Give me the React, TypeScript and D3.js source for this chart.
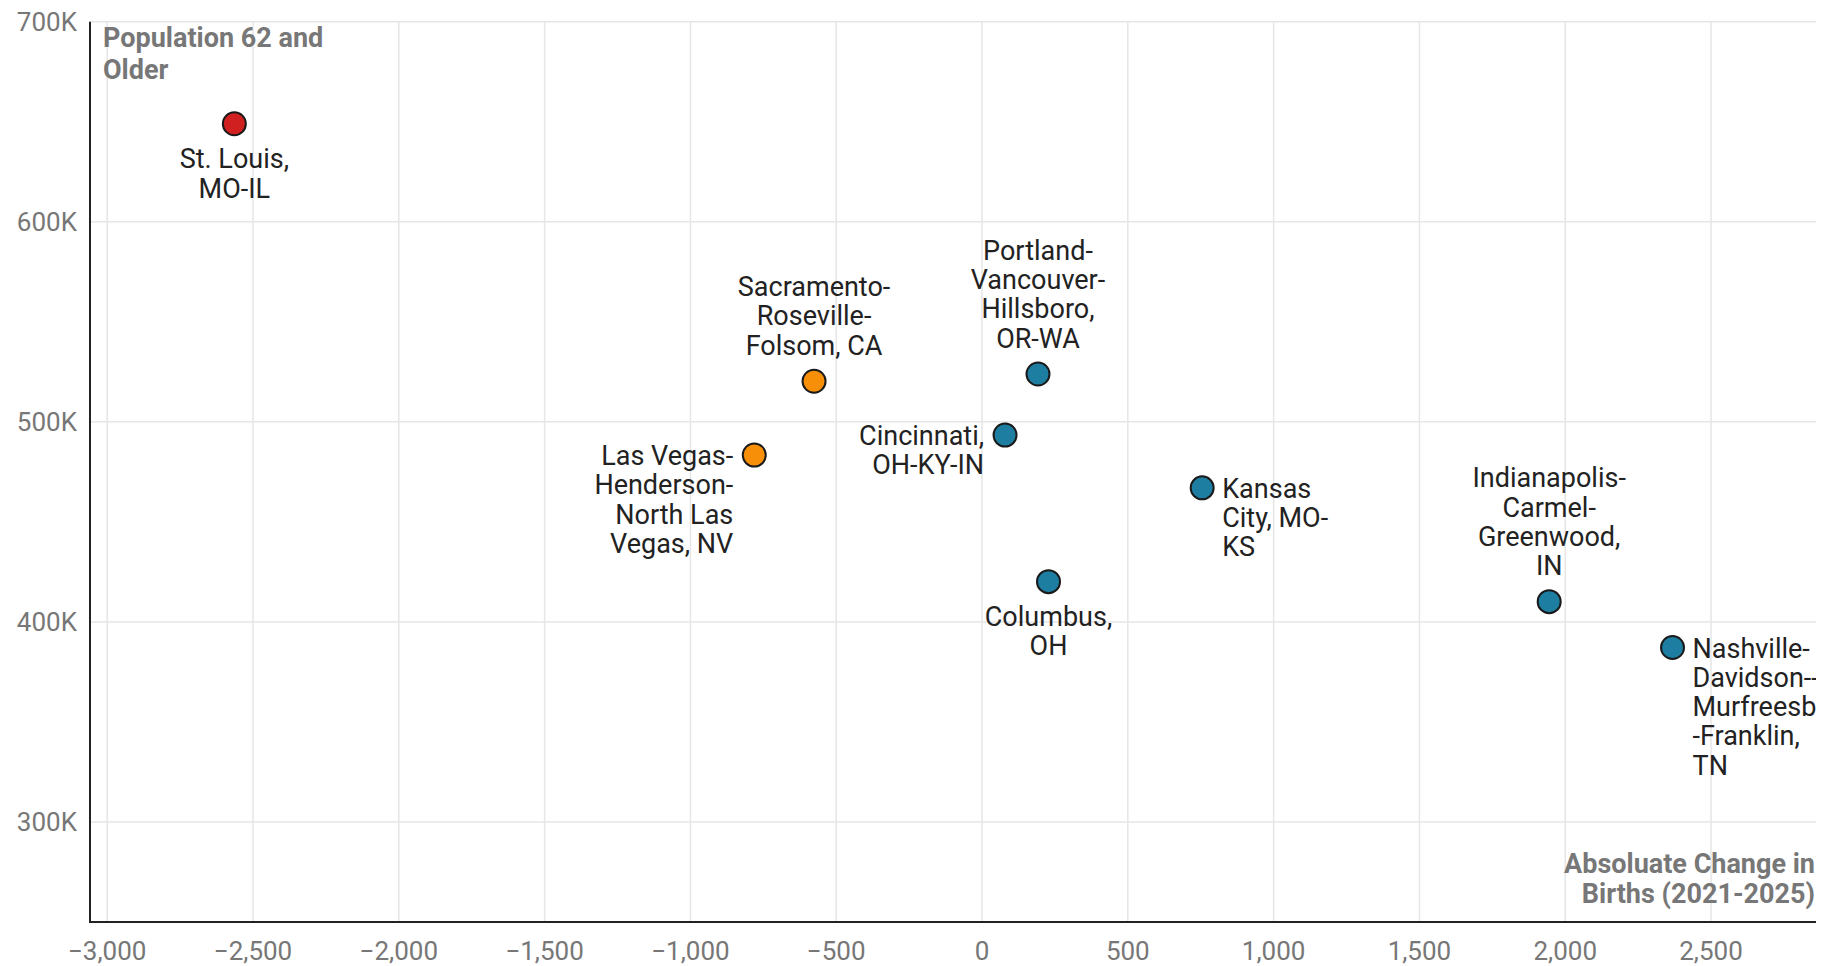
import React from "react";
import * as d3 from "d3";

const cities = [
  "St. Louis, MO-IL",
  "Sacramento-Roseville-Folsom, CA",
  "Las Vegas-Henderson-North Las Vegas, NV",
  "Portland-Vancouver-Hillsboro, OR-WA",
  "Cincinnati, OH-KY-IN",
  "Kansas City, MO-KS",
  "Columbus, OH",
  "Indianapolis-Carmel-Greenwood, IN",
  "Nashville-Davidson--Murfreesboro--Franklin, TN",
];
const labelLines = [
  ["St. Louis,", "MO-IL"],
  ["Sacramento-", "Roseville-", "Folsom, CA"],
  ["Las Vegas-", "Henderson-", "North Las", "Vegas, NV"],
  ["Portland-", "Vancouver-", "Hillsboro,", "OR-WA"],
  ["Cincinnati,", "OH-KY-IN"],
  ["Kansas", "City, MO-", "KS"],
  ["Columbus,", "OH"],
  ["Indianapolis-", "Carmel-", "Greenwood,", "IN"],
  ["Nashville-", "Davidson--", "Murfreesboro-", "-Franklin,", "TN"],
];
const birthsChange = [-2564, -576, -781, 192, 79, 755, 228, 1945, 2368];
const pop62 = [649000, 520300, 483400, 523900, 493400, 467000, 420100, 410100, 387200];
const groups = ["red", "orange", "orange", "teal", "teal", "teal", "teal", "teal", "teal"];
const labelPlacement = ["below", "above", "left", "above", "left", "right", "below", "above", "right"];

const xTicks = [-3000, -2500, -2000, -1500, -1000, -500, 0, 500, 1000, 1500, 2000, 2500];
const yTicks = [300000, 400000, 500000, 600000, 700000];
const yTitle = ["Population 62 and", "Older"];
const xTitle = ["Absoluate Change in", "Births (2021-2025)"];

const colorMap: Record<string, string> = {
  red: "#d0201f",
  orange: "#f78f08",
  teal: "#1d7ea2",
};

const W = 1839;
const H = 966;
const left = 90;
const right = 1816;
const top = 21.7;
const bottom = 922;

export default function App() {
  const x = d3.scaleLinear().domain([-3059, 2860]).range([left, right]);
  const y = d3.scaleLinear().domain([250000, 700000]).range([bottom, top]);
  const fmtX = d3.format(",");
  const font = "Roboto, 'Noto Sans', sans-serif";
  const lh = 29.3;

  return (
    <svg
      width={W}
      height={H}
      style={{ position: "absolute", left: 0, top: 0, display: "block", background: "#fff" }}
      fontFamily={font}
    >
      <defs>
        <clipPath id="plotClip">
          <rect x={left} y={0} width={right - left} height={H} />
        </clipPath>
      </defs>
      {/* gridlines */}
      {xTicks.map((t) => (
        <line key={"gx" + t} x1={x(t)} x2={x(t)} y1={top} y2={bottom} stroke="#e6e6e6" strokeWidth={1.5} />
      ))}
      {yTicks.map((t) => (
        <line key={"gy" + t} x1={left} x2={right} y1={y(t)} y2={y(t)} stroke="#e6e6e6" strokeWidth={1.5} />
      ))}
      {/* axes */}
      <line x1={left} x2={left} y1={top} y2={bottom + 1} stroke="#222" strokeWidth={2} />
      <line x1={left - 1} x2={right} y1={bottom} y2={bottom} stroke="#222" strokeWidth={2} />
      {/* tick labels */}
      {yTicks.map((t) => (
        <text key={"ty" + t} x={left - 13} y={y(t) + 9.5} textAnchor="end" fontSize={26} fill="#777">
          {t / 1000 + "K"}
        </text>
      ))}
      {xTicks.map((t) => (
        <text key={"tx" + t} x={x(t)} y={960} textAnchor="middle" fontSize={26} fill="#777">
          {fmtX(t)}
        </text>
      ))}
      {/* axis titles */}
      {yTitle.map((s, i) => (
        <text key={"yt" + i} x={103} y={47 + i * 32} fontSize={27} fontWeight={700} fill="#777">
          {s}
        </text>
      ))}
      {xTitle.map((s, i) => (
        <text key={"xt" + i} x={1815} y={873 + i * 30} textAnchor="end" fontSize={27} fontWeight={700} fill="#777">
          {s}
        </text>
      ))}
      {/* points */}
      {cities.map((c, i) => (
        <circle
          key={"p" + c}
          cx={x(birthsChange[i])}
          cy={y(pop62[i])}
          r={11.5}
          fill={colorMap[groups[i]]}
          stroke="#1a1a1a"
          strokeWidth={2}
        />
      ))}
      {/* labels */}
      <g clipPath="url(#plotClip)">
        {cities.map((c, i) => {
          const cx = x(birthsChange[i]);
          const cy = y(pop62[i]);
          const lines = labelLines[i];
          const pos = labelPlacement[i];
          let tx = cx;
          let ty = cy;
          let anchor: "start" | "middle" | "end" = "middle";
          if (pos === "above") {
            ty = cy - 26.5 - (lines.length - 1) * lh;
          } else if (pos === "below") {
            ty = cy + 44.5;
          } else if (pos === "left") {
            tx = cx - 21;
            ty = cy + 10;
            anchor = "end";
          } else {
            tx = cx + 20;
            ty = cy + 10;
            anchor = "start";
          }
          return (
            <text key={"l" + c} x={tx} y={ty} textAnchor={anchor} fontSize={27} fill="#222">
              {lines.map((s, j) => (
                <tspan key={j} x={tx} y={ty + j * lh}>
                  {s}
                </tspan>
              ))}
            </text>
          );
        })}
      </g>
    </svg>
  );
}
